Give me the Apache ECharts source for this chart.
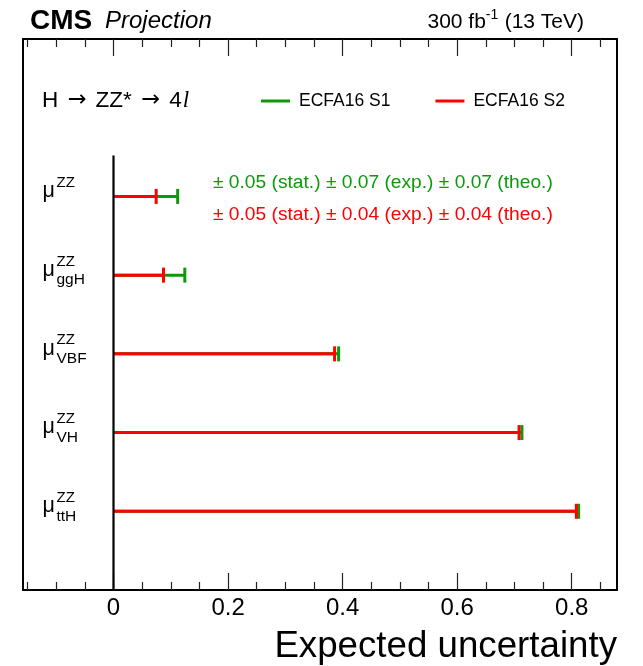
<!DOCTYPE html>
<html>
<head>
<meta charset="utf-8">
<script src="https://cdn.jsdelivr.net/npm/echarts@6/dist/echarts.min.js"></script>
<style>
  html, body { margin: 0; padding: 0; background: #fff; }
  #chart { width: 643px; height: 666px; }
</style>
</head>
<body>
<div id="chart"></div>
<script>
// ---- data ----
const subscripts = ['', 'ggH', 'VBF', 'VH', 'ttH'];          // μ^ZZ_{sub}
const s1Values = [0.112, 0.1245, 0.393, 0.713, 0.812];       // ECFA16 S1
const s2Values = [0.0745, 0.0873, 0.386, 0.708, 0.808];      // ECFA16 S2
const s1Unc = [0.05, 0.07, 0.07];                            // stat, exp, theo (μZZ)
const s2Unc = [0.05, 0.04, 0.04];
const uncNames = ['stat.', 'exp.', 'theo.'];
const xMajorTicks = [0, 0.2, 0.4, 0.6, 0.8];
const xMinorTicks = [-0.15, -0.1, -0.05, 0.05, 0.1, 0.15, 0.25, 0.3, 0.35, 0.45, 0.5, 0.55, 0.65, 0.7, 0.75, 0.85];
const xMin = -0.158, xMax = 0.879;
const yMin = -2, yMax = 5;

const GREEN = '#0c9a0c';
const RED = '#ff0000';
const FONT = 'Liberation Sans, Arial, Helvetica, sans-serif';

const chart = echarts.init(document.getElementById('chart'), null, { renderer: 'canvas' });

function measure(text, font) {
  const c = document.createElement('canvas').getContext('2d');
  c.font = font;
  return c.measureText(text).width;
}

function errSeries(name, values, color, z) {
  return {
    type: 'custom', name: name, z: z,
    itemStyle: { color: color },
    data: values.map((v, i) => [v, i]),
    encode: { x: 0, y: 1 },
    renderItem: function (params, api) {
      const v = api.value(0), i = api.value(1);
      const p0 = api.coord([0, i]);
      const p1 = api.coord([v, i]);
      return {
        type: 'group',
        children: [
          { type: 'line', shape: { x1: p0[0], y1: p0[1], x2: p1[0], y2: p1[1] }, style: { stroke: color, lineWidth: 3 } },
          { type: 'line', shape: { x1: p1[0], y1: p1[1] - 7.5, x2: p1[0], y2: p1[1] + 7.5 }, style: { stroke: color, lineWidth: 3 } }
        ]
      };
    }
  };
}

const labelSeries = {
  type: 'custom', name: 'labels', silent: true, z: 5,
  data: subscripts.map((s, i) => [xMin, i]),
  encode: { x: 0, y: 1 },
  renderItem: function (params, api) {
    const p = api.coord([api.value(0), api.value(1)]);
    const x0 = p[0] + 19.5, r = p[1];
    const children = [
      { type: 'text', x: x0, y: r - 5, style: { text: 'μ', fontSize: 21.5, fontFamily: FONT, fill: '#000', verticalAlign: 'middle', align: 'left' } },
      { type: 'text', x: x0 + 14, y: r - 13.5, style: { text: 'ZZ', fontSize: 15, fontFamily: FONT, fill: '#000', verticalAlign: 'middle', align: 'left' } }
    ];
    const sub = subscripts[params.dataIndex];
    if (sub) {
      children.push({ type: 'text', x: x0 + 14, y: r + 5, style: { text: sub, fontSize: 15.5, fontFamily: FONT, fill: '#000', verticalAlign: 'middle', align: 'left' } });
    }
    return { type: 'group', children: children };
  }
};

const zeroLine = {
  type: 'line', name: 'zero', z: 6, silent: true, symbol: 'none',
  data: [[0, -0.52], [0, yMax]],
  lineStyle: { color: '#000', width: 2.2 },
  animation: false
};

function axisX(pos, ticks, len, labels) {
  return {
    type: 'value', position: pos, min: xMin, max: xMax,
    axisLine: { show: false, onZero: false },
    splitLine: { show: false },
    axisTick: { show: true, inside: true, length: len, customValues: ticks, lineStyle: { color: '#222', width: 1.2 } },
    axisLabel: labels ? {
      show: true, customValues: ticks, margin: 6, color: '#000', fontSize: 24, fontFamily: FONT,
      formatter: v => (Math.abs(v) < 1e-9 ? '0' : v.toFixed(1))
    } : { show: false }
  };
}

// header texts
const hdrFont1 = 'bold 28px ' + FONT;
const hdrFont2 = 'italic 24px ' + FONT;
const lumiFont = '21px ' + FONT;
const supFont = '14px ' + FONT;
const lumiA = '300 fb', lumiS = '-1', lumiB = ' (13 TeV)';
const lumiRight = 584;
const wB = measure(lumiB, lumiFont), wS = measure(lumiS, supFont), wA = measure(lumiA, lumiFont);
const xB = lumiRight - wB, xS = xB - wS - 0.5, xA = xS - wA;

function uncText(u) {
  return u.map((v, k) => '± ' + v.toFixed(2) + ' (' + uncNames[k] + ')').join(' ');
}

const option = {
  animation: false,
  backgroundColor: '#fff',
  grid: { left: 23, right: 26, top: 39, bottom: 76, show: true, borderColor: '#000', borderWidth: 2, backgroundColor: 'transparent' },
  xAxis: [
    axisX('bottom', xMajorTicks, 17, true),
    axisX('bottom', xMinorTicks, 8, false),
    axisX('top', xMajorTicks, 17, false),
    axisX('top', xMinorTicks, 8, false)
  ],
  yAxis: [{ type: 'value', inverse: true, min: yMin, max: yMax, show: false, splitLine: { show: false }, axisLine: { onZero: false } }],
  legend: {
    data: ['ECFA16 S1', 'ECFA16 S2'],
    left: 256, top: 87, icon: 'rect', itemWidth: 29, itemHeight: 3, itemGap: 45,
    textStyle: { fontSize: 17.5, fontFamily: FONT, color: '#000', padding: [0, 0, 0, 4] }
  },
  series: [
    errSeries('ECFA16 S1', s1Values, GREEN, 2),
    errSeries('ECFA16 S2', s2Values, RED, 3),
    labelSeries,
    zeroLine
  ],
  graphic: [
    { type: 'text', left: 30, top: 7, style: { text: 'CMS', font: hdrFont1, fill: '#000' } },
    { type: 'text', left: 105, top: 9, style: { text: 'Projection', font: hdrFont2, fill: '#000' } },
    { type: 'text', x: xA, y: 22, style: { text: lumiA, font: lumiFont, fill: '#000', verticalAlign: 'middle' } },
    { type: 'text', x: xS, y: 15, style: { text: lumiS, font: supFont, fill: '#000', verticalAlign: 'middle' } },
    { type: 'text', x: xB, y: 22, style: { text: lumiB, font: lumiFont, fill: '#000', verticalAlign: 'middle' } },
    {
      type: 'text', left: 42, top: 89,
      style: {
        text: '{a|H }{r|→}{a| ZZ* }{r|→}{a| 4}{l|l}',
        rich: {
          a: { fontSize: 22.5, fontFamily: FONT, color: '#000' },
          r: { fontSize: 22.5, fontFamily: 'DejaVu Sans, sans-serif', color: '#000', padding: [0, 3, 0, 3] },
          l: { fontSize: 23, fontFamily: 'Liberation Serif, serif', fontStyle: 'italic', color: '#000', padding: [0, 0, 0, 1] }
        }
      }
    },
    { type: 'text', left: 213, top: 173, style: { text: uncText(s1Unc), font: '19.2px ' + FONT, fill: GREEN } },
    { type: 'text', left: 213, top: 205, style: { text: uncText(s2Unc), font: '19.2px ' + FONT, fill: RED } },
    { type: 'text', right: 26, top: 628, style: { text: 'Expected uncertainty', font: '36.7px ' + FONT, fill: '#000' } }
  ]
};

chart.setOption(option);
</script>
</body>
</html>
